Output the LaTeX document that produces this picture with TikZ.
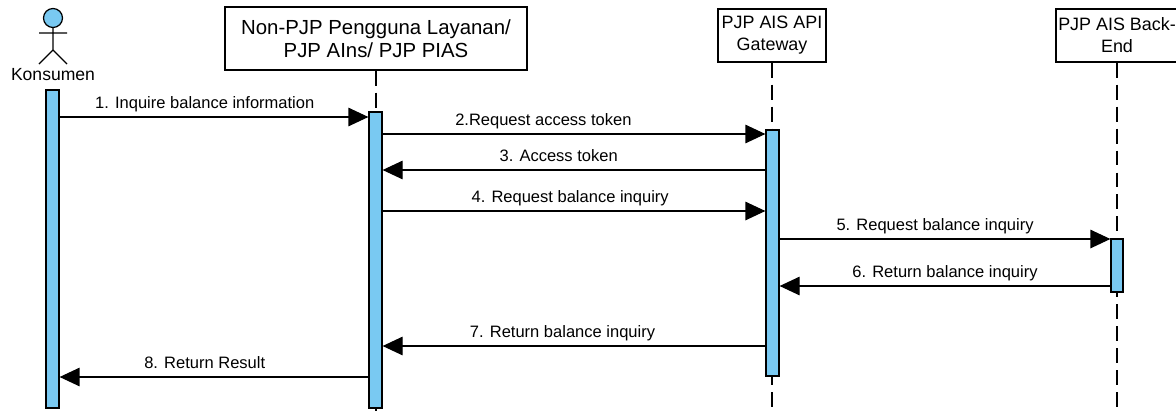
\documentclass[tikz,border=0pt]{standalone}
\usepackage{fontspec}
\setmainfont{Liberation Sans}
\usepackage{tikz}
\usetikzlibrary{arrows.meta,positioning,fit}
\definecolor{barblue}{RGB}{121,201,242}

\begin{document}
\begin{tikzpicture}[x=0.02cm, y=-0.02cm]
			\tikzstyle{LifeBox}	= [rectangle, draw, line width=0.8pt, fill=white, align=center, inner sep=0pt]
			\tikzstyle{ActBar}	= [rectangle, draw, line width=0.7pt, fill=barblue, inner sep=0pt]
			\tikzstyle{LifeLine}	= [line width=0.7pt, dash pattern=on 8.5pt off 4pt]
			\tikzstyle{Msg}		= [line width=0.7pt, -{Triangle[length=0.4cm, width=0.37cm]}]
			\tikzstyle{MsgLabel}	= [anchor=base, yshift=0.18cm, inner sep=0pt, font=\fontsize{9.4}{11}\selectfont]
			
			\useasboundingbox (0,0) rectangle (1176,410);
			
			% actor
			\node (head) at (53,18) [circle, draw, line width=0.7pt, fill=barblue, minimum size=0.38cm, inner sep=0pt] {};
			\draw [line width=0.7pt] (head.south) -- (53,50) -- (39,64) (53,50) -- (67,64) (39,33) -- (67,33);
			\node (kons) at (53,75) [font=\fontsize{10}{12}\selectfont] {Konsumen};
			
			% lifeline heads
			\node (nonpjp) at (376,38.5) [LifeBox, minimum width=6.04cm, minimum height=1.26cm, font=\fontsize{11.6}{13.2}\selectfont] {Non-PJP Pengguna Layanan/\\PJP AIns/ PJP PIAS};
			\node (gateway) at (772,35.5) [LifeBox, minimum width=2.16cm, minimum height=1.06cm, font=\fontsize{10.2}{12.5}\selectfont] {PJP AIS API\\Gateway};
			\node (backend) at (1117,35.5) [LifeBox, minimum width=2.44cm, minimum height=1.06cm, font=\fontsize{10.2}{12.5}\selectfont] {PJP AIS Back-\\End};
			
			\foreach \n in {nonpjp, gateway, backend}
				\draw [LifeLine] (\n.south) -- (\n.south |- 0,412);
			
			% activation bars
			\node (konbar) [ActBar, fit={(46,90) (59,408)}] {};
			\node (nonbar) [ActBar, fit={(369,112) (382,408)}] {};
			\node (gwbar) [ActBar, fit={(766,130) (779,376)}] {};
			\node (bebar) [ActBar, fit={(1111,239) (1123,292)}] {};
			
			% messages
			\foreach \from/\to/\y/\p/\txt in {konbar.east/nonbar.west/117/0.47/1. Inquire balance information,
				nonbar.east/gwbar.west/134/0.42/2.Request access token,
				gwbar.west/nonbar.east/170/0.54/3. Access token,
				nonbar.east/gwbar.west/211/0.49/4. Request balance inquiry,
				gwbar.east/bebar.west/239/0.47/5. Request balance inquiry,
				bebar.west/gwbar.east/286/0.5/6. Return balance inquiry,
				gwbar.west/nonbar.east/346/0.53/7. Return balance inquiry,
				nonbar.west/konbar.east/377/0.53/8. Return Result}
				\draw [Msg] (\from |- 0,\y) -- (\to |- 0,\y) node [MsgLabel, pos=\p] {\txt};
		\end{tikzpicture}
\end{document}
